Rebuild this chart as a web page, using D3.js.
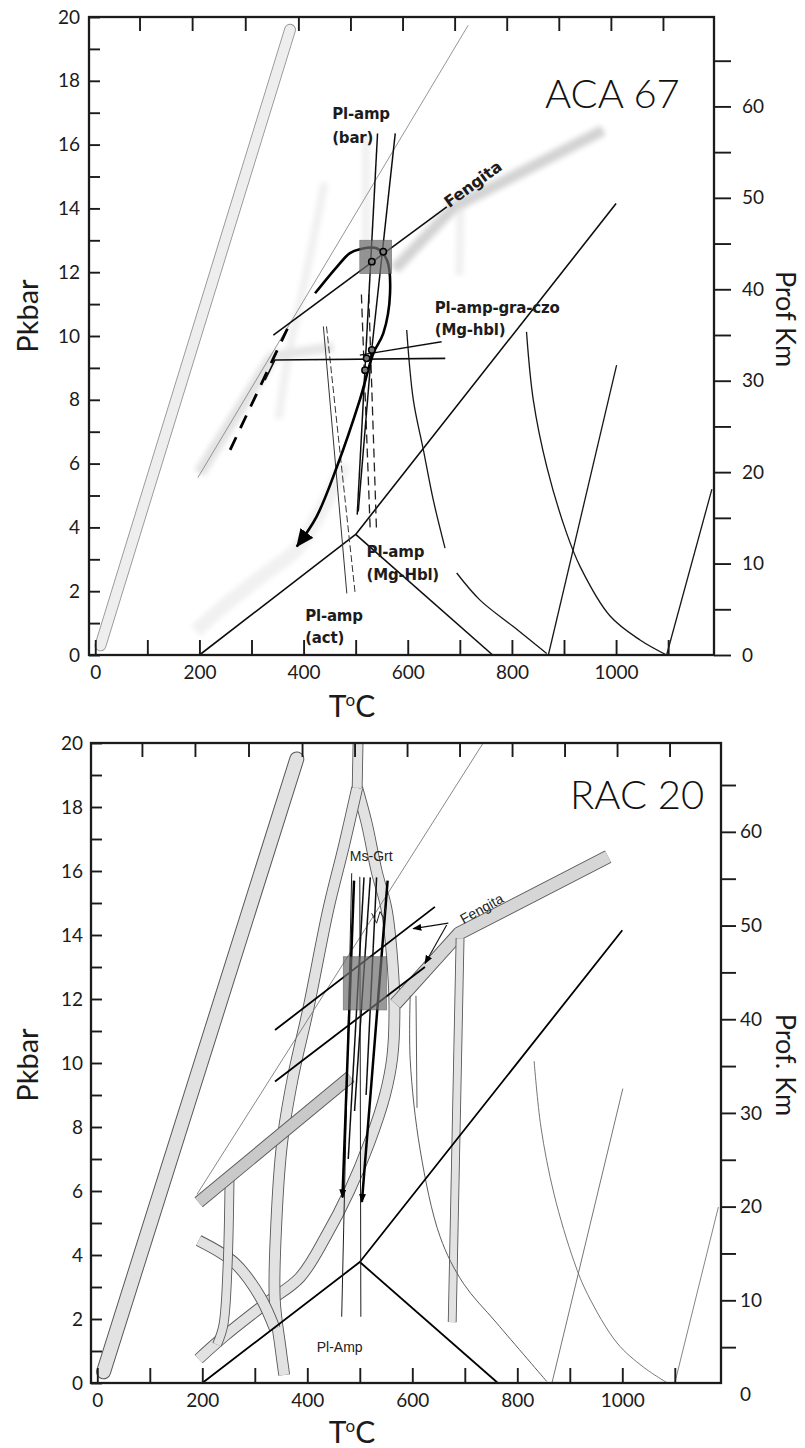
<!DOCTYPE html>
<html>
<head>
<meta charset="utf-8">
<script src="https://cdnjs.cloudflare.com/ajax/libs/d3/7.8.5/d3.min.js"></script>
<style>
  html, body { margin: 0; padding: 0; background: #fff; }
  svg { display: block; }
</style>
</head>
<body>
<svg id="fig" width="805" height="1448"></svg>
<script>
// ---------------- axis values ----------------
const tempDomain = [-12, 1188];
const pressureDomain = [0, 20];
const depthDomain = [0, 65];
const pressureTicks = [0,1,2,3,4,5,6,7,8,9,10,11,12,13,14,15,16,17,18,19,20];
const pressureLabels = [0,2,4,6,8,10,12,14,16,18,20];
const tempTicks = [0,100,200,300,400,500,600,700,800,900,1000,1100];
const tempLabels = [0,200,400,600,800,1000];
const topEdgeTicks = [85,186,288,390,490,590,690,790,890,990,1090];
const depthTicks = [0,5,10,15,20,25,30,35,40,45,50,55,60,65];
const depthLabels = [0,10,20,30,40,50,60];

// ---------------- shared phase boundaries (T °C, P kbar) ----------------
const fieldBoundary = [[200,0],[500,3.78],[1000,14.15]];
const wedgeBoundary = [[500,3.78],[763,0]];

// ---------------- ACA 67 ----------------
const acaBandLeft = [[10,0.3],[374,19.6]];
const acaHazeLow = [[200,5.7],[340,9.35]];
const acaHazeMid = [[335,9.35],[457,9.66]];
const acaHazeHigh = [[575,12.1],[689,14.05],[975,16.45]];
const acaHazeCurve = [[193,0.75],[241,1.45],[322,2.5],[386,3.3],[436,4.6],[480,6.0]];
const acaHazeStrips = [
  [[520,16.3],[520,12.2]],
  [[702,14.6],[699,11.9]],
  [[440,14.8],[402,11.7],[372,9.5],[352,7.4]]
];
const acaThinLine = [[197,5.56],[716,19.74]];
const acaFengita = [[342,10.03],[675,14.05]];
const acaPTPath = [[422,11.34],[464,12.17],[489,12.6],[508,12.72],[540,12.75],[560,12.38],[566,11.34],[553,10.08],[534,9.46],[508,8.0],[464,5.9],[425,4.34],[387,3.4]];
const acaProgradeDashed = [[259,6.43],[371,10.3]];
const acaBox = [[508,11.96],[569,13.0]];
const acaPoints = [[531,12.33],[553,12.64],[521,9.3],[531,9.56],[518,8.93]];
const acaBarLines = [
  [[542,16.35],[503,4.4]],
  [[576,16.35],[531,9.6],[505,4.5]]
];
const acaDashedLines = [
  [[511,11.3],[528,3.9]],
  [[525,11.3],[540,3.9]]
];
const acaActSolid = [[438,10.3],[483,1.93]];
const acaActDashed = [[444,10.3],[499,1.93]];
const acaGraCzoA = [[326,8.62],[345,9.25],[672,9.30]];
const acaGraCzoB = [[508,9.40],[665,9.82]];
const acaC1Upper = [[598,10.19],[610.7,8.0],[630,6.43],[649,4.86],[671.6,3.35]];
const acaC1Lower = [[694,2.57],[738.8,1.72],[802.7,0.89],[866.8,0.05]];
const acaC2 = [[828,10.13],[841,8.0],[867,5.9],[905,3.82],[931,2.77],[988,1.23],[1046,0.47],[1097,0]];
const acaR1 = [[870,0],[1001,9.09]];
const acaR2 = [[1097,0],[1184,5.2]];
const acaLabels = [
  ["Pl-amp", 455, 16.8], ["(bar)", 455, 16.05],
  ["Pl-amp-gra-czo", 652, 10.72], ["(Mg-hbl)", 652, 10.03],
  ["Pl-amp", 521, 3.07], ["(Mg-Hbl)", 521, 2.35],
  ["Pl-amp", 403, 1.07], ["(act)", 403, 0.38]
];
const acaFengitaLabel = ["Fengita", 725, 14.76, -36];

// ---------------- RAC 20 ----------------
const racBandLeft = [[12,0.35],[380,19.5]];
const racStem = [[497,20.3],[495,18.6]];
const racBandVLeft = [[495,18.6],[470,16.8],[440,14.8],[402,11.7],[372,9.5],[352,7.5],[341,5.0],[338,2.6],[349,1.1],[356,0.25]];
const racBandVRight = [[495,18.6],[513,17.5],[532,16.0],[551,14.8],[561,13.4],[566,11.8],[562,10.2],[548,9.0],[518,7.5],[480,6.0],[436,4.6],[386,3.3],[322,2.5],[241,1.45],[193,0.75]];
const racBandCross = [[193,4.45],[261,3.76],[310,2.7],[338,1.7]];
const racBandHook = [[252,6.5],[248,3.6],[240,1.8],[228,1.2]];
const racBandFengLow = [[193,5.65],[482,9.57]];
const racBandFengHigh = [[568,11.85],[689,14.05],[973,16.45]];
const racBandRight = [[691,13.9],[676,1.9]];
const racThinLine = [[190,5.9],[735,20]];
const racFengLines = [
  [[338.5,11.03],[643,14.88]],
  [[338.5,9.42],[624,13.0]]
];
const racFengPointers = [
  [[668.6,14.37],[601.9,14.2]],
  [[665.5,14.31],[624.2,13.11]]
];
const racBox = [[468.6,11.66],[551.2,13.32]];
const racMsGrtThin = [
  [[484.6,15.93],[465.5,2.07]],
  [[500,15.82],[502,2.07]]
];
const racMsGrtThick = [
  [[489,15.7],[467,5.8]],
  [[553,15.7],[504,5.66]]
];
const racMsGrtMid = [
  [[508,15.8],[478,7.0]],
  [[520,15.8],[490,8.5]],
  [[532,15.8],[512,9.0]]
];
const racWiggle = [[522.6,14.68],[532,14.37],[538.5,14.73],[546,14.52],[550,14.89]];
const racC1 = [[596,12.1],[596,10.1],[615,7.28],[653,4.57],[697,3.12],[761,1.87],[856,0.05]];
const racC1Twin = [[607,12.1],[609,8.6]];
const racC2 = [[832,10.06],[845,8.0],[870,5.9],[908,3.8],[934,2.77],[990,1.25],[1040,0.5],[1086,0]];
const racR1 = [[866,0],[1001,9.2]];
const racR2 = [[1100,0],[1183,5.5]];
const racLabels = [["Ms-Grt", 481, 16.3], ["Pl-Amp", 418, 0.98]];
const racFengitaLabel = ["Fengita", 732, 14.83, -29];

// ---------------- panel frames ----------------
const panels = {
  aca: { id: "aca", left: 89, right: 714, top: 17, bottom: 655, depthRange: [655, 60.7],
         name: "ACA 67", nameX: 545, nameY: 108, depthTitle: "Prof Km", depthTitleX: 786, depthTitleY: 319,
         pTitleX: 26, pTitleY: 316, tTitleX: 352, tTitleY: 717, tickLen: 17, depthPad: 11, labelPad: 9 },
  rac: { id: "rac", left: 91, right: 721, top: 743, bottom: 1383, depthRange: [1394, 785],
         name: "RAC 20", nameX: 570, nameY: 809, depthTitle: "Prof. Km", depthTitleX: 786, depthTitleY: 1065,
         pTitleX: 26, pTitleY: 1065, tTitleX: 352, tTitleY: 1443, tickLen: 15, depthPad: 4, labelPad: 8 }
};

const FONT = "Lato, 'DejaVu Sans', sans-serif";
const LABEL_FONT = "'DejaVu Sans', Verdana, sans-serif";
const NARROW_FONT = "'Liberation Sans Narrow', 'Liberation Sans', Arial, sans-serif";

const svg = d3.select("#fig");
svg.append("rect").attr("width", 805).attr("height", 1448).attr("fill", "#fff");
const defs = svg.append("defs");

defs.append("filter").attr("id", "haze").attr("x", "-20%").attr("y", "-20%")
  .attr("width", "140%").attr("height", "140%")
  .append("feGaussianBlur").attr("stdDeviation", 2.4);
defs.append("filter").attr("id", "soft").attr("x", "-20%").attr("y", "-20%")
  .attr("width", "140%").attr("height", "140%")
  .append("feGaussianBlur").attr("stdDeviation", 0.45);

function marker(id, len, half) {
  defs.append("marker").attr("id", id)
    .attr("markerUnits", "userSpaceOnUse")
    .attr("viewBox", `0 ${-half} ${len} ${2 * half}`)
    .attr("refX", len - 1).attr("refY", 0)
    .attr("markerWidth", len).attr("markerHeight", 2 * half)
    .attr("orient", "auto")
    .append("path").attr("d", `M0,${-half}L${len},0L0,${half}Z`).attr("fill", "#000");
}
marker("arrowPT", 18, 8);
marker("arrowSmall", 9, 3.5);
marker("arrowPointer", 9, 3.5);

function buildPanel(cfg) {
  const x = d3.scaleLinear().domain(tempDomain).range([cfg.left, cfg.right]);
  const y = d3.scaleLinear().domain(pressureDomain).range([cfg.bottom, cfg.top]);
  const depth = d3.scaleLinear().domain(depthDomain).range(cfg.depthRange);
  const clipId = "clip-" + cfg.id;
  defs.append("clipPath").attr("id", clipId).append("rect")
    .attr("x", cfg.left).attr("y", cfg.top)
    .attr("width", cfg.right - cfg.left).attr("height", cfg.bottom - cfg.top);
  const g = svg.append("g").attr("class", "panel-" + cfg.id);
  const plot = g.append("g").attr("clip-path", `url(#${clipId})`);
  const straight = d3.line().x(d => x(d[0])).y(d => y(d[1]));
  const smooth = d3.line().x(d => x(d[0])).y(d => y(d[1])).curve(d3.curveCatmullRom.alpha(0.5));
  return { cfg, x, y, depth, g, plot, straight, smooth };
}

function stroke(layer, d, color, width, extra = {}) {
  const p = layer.append("path").attr("d", d).attr("fill", "none")
    .attr("stroke", color).attr("stroke-width", width)
    .attr("stroke-linecap", extra.cap || "butt").attr("stroke-linejoin", "round");
  if (extra.dash) p.attr("stroke-dasharray", extra.dash);
  if (extra.filter) p.attr("filter", `url(#${extra.filter})`);
  if (extra.opacity != null) p.attr("opacity", extra.opacity);
  if (extra.marker) p.attr("marker-end", `url(#${extra.marker})`);
  return p;
}

// outlined grey band: dark edge stroke under a lighter core stroke
function band(layer, d, width, core, edge, edgeWidth, cap) {
  stroke(layer, d, edge, width + 2 * edgeWidth, { cap });
  stroke(layer, d, core, width, { cap });
}

function drawAxes(P) {
  const { cfg, x, y, depth, g } = P;
  const ink = "#1b1b1b";
  const styleAxis = sel => {
    sel.select(".domain").remove();
    sel.selectAll(".tick line").attr("stroke", ink).attr("stroke-width", 1.9);
    sel.selectAll(".tick text").attr("fill", ink).attr("font-family", FONT).attr("font-size", 19);
    sel.attr("font-family", null).attr("font-size", null);
  };
  g.append("g").attr("transform", `translate(${cfg.left},0)`)
    .call(d3.axisLeft(y).tickValues(pressureTicks).tickSize(-11).tickPadding(cfg.labelPad)
      .tickFormat(d => pressureLabels.includes(d) ? d : ""))
    .call(styleAxis);
  g.append("g").attr("transform", `translate(0,${cfg.bottom})`)
    .call(d3.axisBottom(x).tickValues(tempTicks).tickSize(-15).tickPadding(11)
      .tickFormat(d => tempLabels.includes(d) ? d : ""))
    .call(styleAxis);
  g.append("g").attr("transform", `translate(0,${cfg.top})`)
    .call(d3.axisTop(x).tickValues(topEdgeTicks).tickSize(-14).tickFormat(""))
    .call(styleAxis);
  const right = g.append("g").attr("transform", `translate(${cfg.right},0)`)
    .call(d3.axisRight(depth).tickValues(depthTicks).tickSize(cfg.tickLen).tickPadding(cfg.depthPad)
      .tickFormat(d => depthLabels.includes(d) ? d : ""))
    .call(styleAxis);
  right.selectAll(".tick").filter(d => depth(d) > cfg.bottom + 1).select("line").remove();
  right.selectAll(".tick").filter(d => depth(d) < cfg.top - 1).remove();

  g.append("rect").attr("x", cfg.left).attr("y", cfg.top)
    .attr("width", cfg.right - cfg.left).attr("height", cfg.bottom - cfg.top)
    .attr("fill", "none").attr("stroke", ink).attr("stroke-width", 2.3);

  // titles
  g.append("text").attr("transform", `translate(${cfg.pTitleX},${cfg.pTitleY}) rotate(-90)`)
    .attr("text-anchor", "middle").attr("dominant-baseline", "central")
    .attr("font-family", FONT).attr("font-size", 29).attr("fill", ink).text("Pkbar");
  g.append("text").attr("transform", `translate(${cfg.depthTitleX},${cfg.depthTitleY}) rotate(90)`)
    .attr("text-anchor", "middle").attr("dominant-baseline", "central")
    .attr("font-family", FONT).attr("font-size", 27).attr("fill", ink).text(cfg.depthTitle);
  const tt = g.append("text").attr("x", cfg.tTitleX).attr("y", cfg.tTitleY)
    .attr("text-anchor", "middle").attr("font-family", FONT).attr("font-size", 30).attr("fill", ink);
  tt.append("tspan").text("T");
  tt.append("tspan").attr("font-size", 17).attr("dy", -11).attr("dx", -1).text("o");
  tt.append("tspan").attr("dy", 11).text("C");
  g.append("text").attr("x", cfg.nameX).attr("y", cfg.nameY)
    .attr("font-family", FONT).attr("font-weight", 300).attr("font-size", 40).attr("fill", "#111")
    .text(cfg.name);
}

// =============== ACA 67 ===============
{
  const P = buildPanel(panels.aca);
  const { x, y, plot, straight, smooth } = P;

  // faint, blurred remnants
  const haze = plot.append("g").attr("filter", "url(#haze)");
  stroke(haze, smooth(acaHazeCurve), "#f1f1f1", 14);
  acaHazeStrips.forEach(s => stroke(haze, smooth(s), "#f0f0f0", 8));
  stroke(haze, straight(acaHazeLow), "#e3e3e3", 12);
  stroke(haze, straight(acaHazeMid), "#e6e6e6", 10);
  stroke(haze, straight(acaHazeHigh), "#dadada", 12);
  stroke(haze, straight(acaHazeHigh), "#c6c6c6", 5, { dash: "3,3" });

  band(plot, straight(acaBandLeft), 10, "#eeeeee", "#969696", 0.9, "round");
  stroke(plot, straight(acaThinLine), "#8a8a8a", 0.9);

  const lines = plot.append("g").attr("filter", "url(#soft)");
  stroke(lines, straight(fieldBoundary), "#111", 1.6);
  stroke(lines, straight(wedgeBoundary), "#111", 1.6);
  stroke(lines, smooth(acaC1Upper), "#161616", 1.3);
  stroke(lines, smooth(acaC1Lower), "#161616", 1.3);
  stroke(lines, smooth(acaC2), "#161616", 1.3);
  stroke(lines, straight(acaR1), "#161616", 1.3);
  stroke(lines, straight(acaR2), "#161616", 1.3);
  stroke(lines, straight(acaActSolid), "#333", 1.0);
  stroke(lines, straight(acaActDashed), "#333", 1.0, { dash: "7,3" });
  acaDashedLines.forEach(l => stroke(lines, straight(l), "#222", 1.3, { dash: "9,5" }));
  acaBarLines.forEach(l => stroke(lines, straight(l), "#111", 1.5));
  stroke(lines, straight(acaGraCzoA), "#111", 1.6);
  stroke(lines, straight(acaGraCzoB), "#111", 1.3);
  stroke(lines, straight(acaFengita), "#111", 1.6);
  stroke(lines, straight(acaProgradeDashed), "#000", 2.8, { dash: "14,10" });

  plot.append("rect")
    .attr("x", x(acaBox[0][0])).attr("y", y(acaBox[1][1]))
    .attr("width", x(acaBox[1][0]) - x(acaBox[0][0]))
    .attr("height", y(acaBox[0][1]) - y(acaBox[1][1]))
    .attr("fill", "#6f6f6f").attr("opacity", 0.72).attr("stroke", "#555").attr("stroke-width", 0.8);

  stroke(lines, smooth(acaPTPath), "#000", 2.6, { marker: "arrowPT" });

  plot.selectAll("circle.pt").data(acaPoints).join("circle")
    .attr("cx", d => x(d[0])).attr("cy", d => y(d[1])).attr("r", 3.2)
    .attr("fill", "#7a7a7a").attr("stroke", "#000").attr("stroke-width", 1.5);

  const labels = P.g.append("g").attr("font-family", LABEL_FONT).attr("font-weight", "bold")
    .attr("font-size", 15).attr("fill", "#1c1c1c").attr("letter-spacing", -0.2);
  labels.selectAll("text").data(acaLabels).join("text")
    .attr("x", d => x(d[1])).attr("y", d => y(d[2])).text(d => d[0]);
  labels.append("text")
    .attr("transform", `translate(${x(acaFengitaLabel[1])},${y(acaFengitaLabel[2])}) rotate(${acaFengitaLabel[3]})`)
    .attr("text-anchor", "middle").attr("dominant-baseline", "central").attr("font-size", 16)
    .text(acaFengitaLabel[0]);

  drawAxes(P);
}

// =============== RAC 20 ===============
{
  const P = buildPanel(panels.rac);
  const { x, y, plot, straight, smooth } = P;
  const core = "#e2e2e2", edge = "#585858";

  band(plot, smooth(racBandVRight), 10, core, edge, 0.9, "butt");
  band(plot, smooth(racBandVLeft), 10, core, edge, 0.9, "butt");
  band(plot, straight(racStem), 9, core, edge, 0.9, "butt");
  band(plot, smooth(racBandCross), 10, core, edge, 0.9, "butt");
  band(plot, smooth(racBandHook), 8, core, edge, 0.9, "butt");
  band(plot, straight(racBandFengLow), 11, "#c9c9c9", edge, 0.9, "butt");
  band(plot, straight(racBandFengHigh), 12, "#d6d6d6", edge, 0.9, "butt");
  band(plot, straight(racBandRight), 7, core, edge, 0.9, "butt");
  band(plot, straight(racBandLeft), 13, core, edge, 1.0, "round");

  stroke(plot, straight(racThinLine), "#7a7a7a", 0.9);
  stroke(plot, smooth(racC1), "#5c5c5c", 1.0);
  stroke(plot, straight(racC1Twin), "#5c5c5c", 1.0);
  stroke(plot, smooth(racC2), "#666", 0.9);
  stroke(plot, straight(racR1), "#666", 0.9);
  stroke(plot, straight(racR2), "#777", 0.9);

  const lines = plot.append("g").attr("filter", "url(#soft)");
  stroke(lines, straight(fieldBoundary), "#000", 1.8);
  stroke(lines, straight(wedgeBoundary), "#000", 1.8);
  racFengLines.forEach(l => stroke(lines, straight(l), "#000", 1.8));

  plot.append("rect")
    .attr("x", x(racBox[0][0])).attr("y", y(racBox[1][1]))
    .attr("width", x(racBox[1][0]) - x(racBox[0][0]))
    .attr("height", y(racBox[0][1]) - y(racBox[1][1]))
    .attr("fill", "#6f6f6f").attr("opacity", 0.7).attr("stroke", "#444").attr("stroke-width", 0.8);

  racMsGrtThin.forEach(l => stroke(lines, straight(l), "#1e1e1e", 1.0));
  racMsGrtMid.forEach(l => stroke(lines, straight(l), "#111", 1.5));
  racMsGrtThick.forEach(l => stroke(lines, straight(l), "#000", 2.5, { marker: "arrowSmall" }));
  stroke(lines, straight(racWiggle), "#222", 1.0);
  racFengPointers.forEach(l => stroke(lines, straight(l), "#111", 1.1, { marker: "arrowPointer" }));

  const labels = P.g.append("g").attr("font-family", NARROW_FONT)
    .attr("font-size", 14).attr("fill", "#222");
  labels.selectAll("text").data(racLabels).join("text")
    .attr("x", d => x(d[1])).attr("y", d => y(d[2])).text(d => d[0]);
  labels.append("text")
    .attr("transform", `translate(${x(racFengitaLabel[1])},${y(racFengitaLabel[2])}) rotate(${racFengitaLabel[3]})`)
    .attr("text-anchor", "middle").attr("dominant-baseline", "central")
    .text(racFengitaLabel[0]);

  drawAxes(P);
}
</script>
</body>
</html>
